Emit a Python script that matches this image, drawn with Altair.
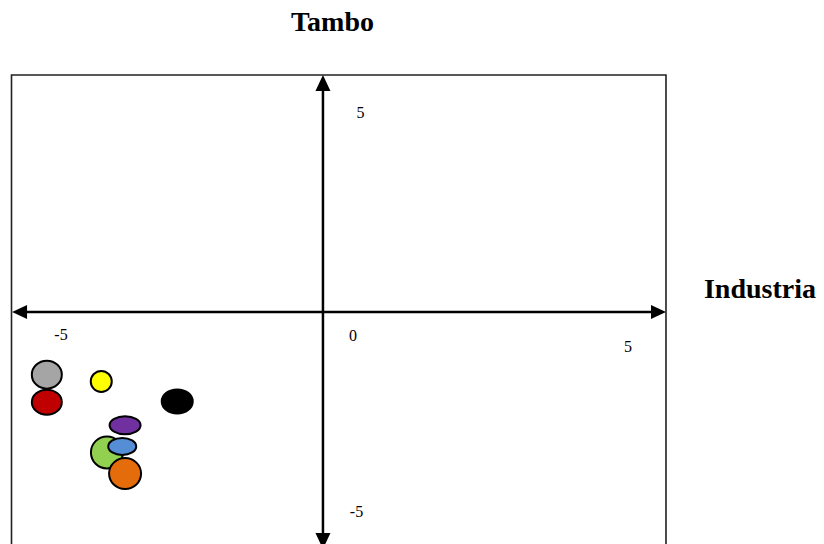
import altair as alt
import pandas as pd

# ---- data ----
grupos = ["Gris", "Rojo", "Amarillo", "Negro", "Verde", "Morado", "Azul", "Naranja"]
industria = [-5.25, -5.25, -4.29, -2.95, -4.19, -3.87, -3.92, -3.87]
tambo = [-1.57, -2.26, -1.74, -2.24, -3.52, -2.84, -3.37, -4.05]
colores = ["#A5A5A5", "#C00000", "#FFFF00", "#000000", "#92D050", "#7030A0", "#558ED5", "#E46C0A"]

x_ticks = [-5, 0, 5]
y_ticks = [5, -5]

# ---- frame geometry (data units) ----
AXIS_X = -0.38          # where the vertical arrow crosses
BOX_L, BOX_R = -5.873, 5.670
BOX_T, BOX_B = 5.94, -6.3
ARROW_T, ARROW_B = 5.94, -5.94

px_x, x0 = 56.7, 344.5   # page px per unit, page x of 0
px_y, y0 = 39.9, 312.0
W, H = 808, 536
xs = alt.Scale(domain=[(8 - x0) / px_x, (8 + W - x0) / px_x], nice=False, zero=False)
ys = alt.Scale(domain=[(y0 - 8 - H) / px_y, (y0 - 8) / px_y], nice=False, zero=False)


def ellipse(rx, ry):
    c = 0.5523
    return (f"M {rx} 0 C {rx} {c*ry:.3f} {c*rx:.3f} {ry} 0 {ry} "
            f"C {-c*rx:.3f} {ry} {-rx} {c*ry:.3f} {-rx} 0 "
            f"C {-rx} {-c*ry:.3f} {-c*rx:.3f} {-ry} 0 {-ry} "
            f"C {c*rx:.3f} {-ry} {rx} {-c*ry:.3f} {rx} 0 Z")


formas = [ellipse(15, 14), ellipse(15, 12.5), ellipse(10.5, 10.5), ellipse(15.5, 12),
          ellipse(16, 16), ellipse(15.5, 9), ellipse(14, 8.5), ellipse(16, 15.5)]

df = pd.DataFrame({"grupo": grupos, "industria": industria, "tambo": tambo})

X = lambda f: alt.X(f, type="quantitative", scale=xs, axis=None)
Y = lambda f: alt.Y(f, type="quantitative", scale=ys, axis=None)

box = alt.Chart(pd.DataFrame({"x": [BOX_L], "x2": [BOX_R], "y": [BOX_B], "y2": [BOX_T]})).mark_rect(
    fillOpacity=0, stroke="#222222", strokeWidth=1.6
).encode(x=X("x"), x2="x2", y=Y("y"), y2="y2")

hline = alt.Chart(pd.DataFrame({"x": [BOX_L + 0.2], "x2": [BOX_R - 0.2], "y": [0.0]})).mark_rule(
    color="black", strokeWidth=2.5
).encode(x=X("x"), x2="x2", y=Y("y"))

vline = alt.Chart(pd.DataFrame({"x": [AXIS_X], "y": [ARROW_B + 0.3], "y2": [ARROW_T - 0.3]})).mark_rule(
    color="black", strokeWidth=2.5
).encode(x=X("x"), y=Y("y"), y2="y2")

heads = pd.DataFrame({
    "d": ["up", "down", "left", "right"],
    "x": [AXIS_X, AXIS_X, BOX_L + 0.01, BOX_R],
    "y": [ARROW_T, ARROW_B, 0.0, 0.0],
})
head_paths = ["M 0 0 L 7.5 16 L -7.5 16 Z", "M 0 0 L 7.5 -16 L -7.5 -16 Z",
              "M 0 0 L 15 -7 L 15 7 Z", "M 0 0 L -15 -7 L -15 7 Z"]
arrows = alt.Chart(heads).mark_point(filled=True, color="black", size=4, opacity=1).encode(
    x=X("x"), y=Y("y"),
    shape=alt.Shape("d:N", scale=alt.Scale(domain=heads["d"].tolist(), range=head_paths), legend=None),
)

points = alt.Chart(df).mark_point(filled=True, stroke="black", strokeWidth=2, size=4, opacity=1).encode(
    x=X("industria"), y=Y("tambo"),
    color=alt.Color("grupo:N", scale=alt.Scale(domain=grupos, range=colores), legend=None),
    shape=alt.Shape("grupo:N", scale=alt.Scale(domain=grupos, range=formas), legend=None),
)

font = "Liberation Serif"
labels = []
x_offsets = {-5: (0, 23), 0: (8.5, 24), 5: (0, 34.5)}
for v in x_ticks:
    dx, dy = x_offsets[v]
    labels.append(alt.Chart(pd.DataFrame({"x": [v], "y": [0.0], "t": [str(v)]})).mark_text(
        font=font, fontSize=16, align="center", baseline="middle", dx=dx, dy=dy, color="black"
    ).encode(x=X("x"), y=Y("y"), text="t:N"))
y_offsets = {5: 37.5, -5: 33.5}
for v in y_ticks:
    labels.append(alt.Chart(pd.DataFrame({"x": [AXIS_X], "y": [v], "t": [str(v)]})).mark_text(
        font=font, fontSize=16, align="center", baseline="middle", dx=y_offsets[v], color="black"
    ).encode(x=X("x"), y=Y("y"), text="t:N"))

titles = [
    alt.Chart(pd.DataFrame({"x": [-0.212], "y": [7.05], "t": ["Tambo"]})).mark_text(
        font=font, fontSize=28, fontWeight="bold", align="center", baseline="alphabetic", color="black"
    ).encode(x=X("x"), y=Y("y"), text="t:N"),
    alt.Chart(pd.DataFrame({"x": [6.34], "y": [0.363], "t": ["Industria"]})).mark_text(
        font=font, fontSize=28, fontWeight="bold", align="left", baseline="alphabetic", color="black"
    ).encode(x=X("x"), y=Y("y"), text="t:N"),
]

chart = alt.layer(box, hline, vline, arrows, points, *labels, *titles).resolve_scale(
    shape="independent", color="independent"
).properties(
    width=W, height=H, autosize=alt.AutoSizeParams(type="none"), padding=0
).configure_view(strokeWidth=0)

chart.save("out.html", embed_options={"renderer": "svg", "actions": False})
